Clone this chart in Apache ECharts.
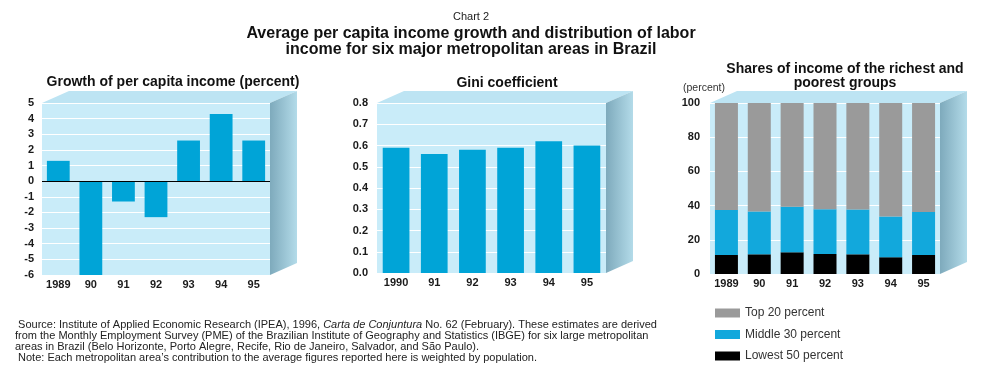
<!DOCTYPE html>
<html>
<head>
<meta charset="utf-8">
<script src="https://cdn.jsdelivr.net/npm/echarts@6/dist/echarts.min.js"></script>
<style>
html,body{margin:0;padding:0;background:#fff;}
#c{width:985px;height:368px;}
</style>
</head>
<body>
<div id="c"></div>
<script>
// ---- data ----
const growthYears = ['1989', '90', '91', '92', '93', '94', '95'];
const growth = [1.3, -6.0, -1.3, -2.3, 2.6, 4.3, 2.6];

const giniYears = ['1990', '91', '92', '93', '94', '95'];
const gini = [0.59, 0.56, 0.58, 0.59, 0.62, 0.60];

const shareYears = ['1989', '90', '91', '92', '93', '94', '95'];
const lowest50 = [11.1, 11.5, 12.7, 11.7, 11.5, 9.8, 11.1];
const middle30 = [26.4, 25.0, 26.6, 26.2, 26.2, 23.8, 25.2];
const top20 = [62.5, 63.5, 60.7, 62.1, 62.3, 66.4, 63.7];

const growthTicks = {min: -6, max: 5, interval: 1};
const giniTicks = {min: 0, max: 0.8, interval: 0.1};
const shareTicks = {min: 0, max: 100, interval: 20};

// ---- layout / style ----
const grids = [
  {left: 42, top: 103, width: 228, height: 172},
  {left: 377, top: 103, width: 229, height: 170},
  {left: 710, top: 103, width: 230, height: 171}
];
const DX = 27, DY = -12;
const FONT = '"Liberation Sans", Arial, sans-serif';
const BAR = '#00a4d7';
const FACE = '#c9ecf9';
const labelStyle = {color: '#1a1a1a', fontFamily: FONT, fontWeight: 'bold', fontSize: 11};

function boxGraphics(g) {
  const L = g.left, T = g.top, W = g.width, H = g.height;
  return [
    {type: 'polygon', z: -1, silent: true,
     shape: {points: [[L, T], [L + W, T], [L + W + DX, T + DY], [L + DX, T + DY]]},
     style: {fill: '#bde4f3'}},
    {type: 'polygon', z: -1, silent: true,
     shape: {points: [[L + W, T], [L + W + DX, T + DY], [L + W + DX, T + H + DY], [L + W, T + H]]},
     style: {fill: {type: 'linear', x: 0, y: 0, x2: 1, y2: 0,
       colorStops: [{offset: 0, color: '#7eaabc'}, {offset: 1, color: '#b3dbe9'}]}}}
  ];
}

const gridOpts = grids.map(g => Object.assign({}, g, {show: true, backgroundColor: FACE, borderWidth: 0, containLabel: false}));

function xAxisFor(idx, data) {
  return {type: 'category', gridIndex: idx, data: data,
    axisLine: {show: false}, axisTick: {show: false},
    axisLabel: Object.assign({margin: 4}, labelStyle), splitLine: {show: false}};
}
function yAxisFor(idx, ticks, fmt, margin) {
  return Object.assign({type: 'value', gridIndex: idx,
    axisLine: {show: false}, axisTick: {show: false},
    axisLabel: Object.assign({margin: margin, formatter: fmt}, labelStyle),
    splitLine: {show: true, lineStyle: {color: '#ffffff', width: 1}}}, ticks);
}

const subTitle = {fontFamily: FONT, fontSize: 14, fontWeight: 'bold', color: '#111'};

const chart = echarts.init(document.getElementById('c'));
chart.setOption({
  animation: false,
  backgroundColor: '#ffffff',
  title: [
    {text: 'Chart 2', left: 466, top: 6, textAlign: 'center',
     textStyle: {fontFamily: FONT, fontSize: 11, fontWeight: 'normal', color: '#222'}},
    {text: 'Average per capita income growth and distribution of labor\nincome for six major metropolitan areas in Brazil',
     left: 466, top: 21, textAlign: 'center',
     textStyle: {fontFamily: FONT, fontSize: 16, fontWeight: 'bold', color: '#111', lineHeight: 16}},
    {text: 'Growth of per capita income (percent)', left: 168, top: 70, textAlign: 'center',
     textStyle: subTitle},
    {text: 'Gini coefficient', left: 502, top: 71, textAlign: 'center',
     textStyle: subTitle},
    {text: 'Shares of income of the richest and\npoorest groups', left: 840, top: 57, textAlign: 'center',
     textStyle: Object.assign({}, subTitle, {lineHeight: 14})}
  ],
  grid: gridOpts,
  xAxis: [xAxisFor(0, growthYears), xAxisFor(1, giniYears), xAxisFor(2, shareYears)],
  yAxis: [
    yAxisFor(0, growthTicks, v => String(v), 8),
    yAxisFor(1, giniTicks, v => v.toFixed(1), 9),
    yAxisFor(2, shareTicks, v => String(v), 10)
  ],
  legend: {
    orient: 'vertical', left: 710, top: 302, itemWidth: 25, itemHeight: 9, itemGap: 9.5,
    icon: 'rect', selectedMode: false,
    data: ['Top 20 percent', 'Middle 30 percent', 'Lowest 50 percent'],
    textStyle: {fontFamily: FONT, fontSize: 12, color: '#333', padding: [0, 0, 0, 0]}
  },
  series: [
    {type: 'bar', name: 'Growth', xAxisIndex: 0, yAxisIndex: 0, data: growth,
     itemStyle: {color: BAR}, barCategoryGap: '30%',
     markLine: {silent: true, symbol: 'none', label: {show: false},
       lineStyle: {color: '#000', width: 1.2, type: 'solid'}, data: [{yAxis: 0}]}},
    {type: 'bar', name: 'Gini', xAxisIndex: 1, yAxisIndex: 1, data: gini,
     itemStyle: {color: BAR}, barCategoryGap: '30%'},
    {type: 'bar', name: 'Lowest 50 percent', xAxisIndex: 2, yAxisIndex: 2, stack: 's', data: lowest50,
     itemStyle: {color: '#000000'}, barCategoryGap: '30%'},
    {type: 'bar', name: 'Middle 30 percent', xAxisIndex: 2, yAxisIndex: 2, stack: 's', data: middle30,
     itemStyle: {color: '#12a8dc'}, barCategoryGap: '30%'},
    {type: 'bar', name: 'Top 20 percent', xAxisIndex: 2, yAxisIndex: 2, stack: 's', data: top20,
     itemStyle: {color: '#9a9a9a'}, barCategoryGap: '30%'}
  ],
  graphic: [].concat(
    boxGraphics(grids[0]), boxGraphics(grids[1]), boxGraphics(grids[2]),
    [
      {type: 'text', left: 683, top: 83, silent: true,
       style: {text: '(percent)', fontFamily: FONT, fontSize: 10.5, fill: '#333'}},
      {type: 'text', left: 15, top: 319, silent: true,
       style: {
         text: '{n| Source: Institute of Applied Economic Research (IPEA), 1996, }{i|Carta de Conjuntura}{n| No. 62 (February). These estimates are derived}\n' +
               '{n|from the Monthly Employment Survey (PME) of the Brazilian Institute of Geography and Statistics (IBGE) for six large metropolitan}\n' +
               '{n|areas in Brazil (Belo Horizonte, Porto Alegre, Recife, Rio de Janeiro, Salvador, and São Paulo).}\n' +
               '{n| Note: Each metropolitan area\u2019s contribution to the average figures reported here is weighted by population.}',
         rich: {
           n: {fontFamily: FONT, fontSize: 11, fill: '#222', lineHeight: 11},
           i: {fontFamily: FONT, fontSize: 11, fontStyle: 'italic', fill: '#222', lineHeight: 11}
         }
       }}
    ]
  )
});
</script>
</body>
</html>
